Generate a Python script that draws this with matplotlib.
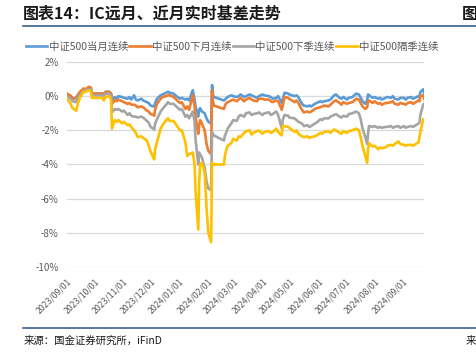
import matplotlib
matplotlib.use('Agg')
import matplotlib.pyplot as plt
import matplotlib.dates as mdates
from matplotlib.lines import Line2D
import pandas as pd

plt.rcParams['font.family'] = ['Noto Sans CJK SC', 'DejaVu Sans']

# DATA (basis in %) -----------------------------------------------------
dates = [
    '2023-09-01', '2023-09-05', '2023-09-07', '2023-09-11', '2023-09-13', '2023-09-15',
    '2023-09-19', '2023-09-21', '2023-09-25', '2023-09-27', '2023-09-28',
    '2023-10-09', '2023-10-11', '2023-10-13', '2023-10-17', '2023-10-19', '2023-10-20',
    '2023-10-23', '2023-10-25', '2023-10-27', '2023-10-31',
    '2023-11-02', '2023-11-06', '2023-11-08', '2023-11-10', '2023-11-13', '2023-11-15',
    '2023-11-17', '2023-11-21', '2023-11-23', '2023-11-27', '2023-11-29',
    '2023-12-01', '2023-12-04', '2023-12-05', '2023-12-06', '2023-12-08', '2023-12-12',
    '2023-12-14', '2023-12-18', '2023-12-20', '2023-12-22', '2023-12-26', '2023-12-28',
    '2024-01-02', '2024-01-04', '2024-01-08', '2024-01-10', '2024-01-12', '2024-01-16',
    '2024-01-18', '2024-01-19', '2024-01-22', '2024-01-23', '2024-01-24', '2024-01-26',
    '2024-01-29', '2024-01-31',
    '2024-02-02', '2024-02-05', '2024-02-06', '2024-02-07', '2024-02-08', '2024-02-19',
    '2024-02-20', '2024-02-21', '2024-02-23', '2024-02-27', '2024-02-29',
    '2024-03-04', '2024-03-06', '2024-03-08', '2024-03-12', '2024-03-14', '2024-03-18',
    '2024-03-20', '2024-03-22', '2024-03-26', '2024-03-28',
    '2024-04-01', '2024-04-03', '2024-04-08', '2024-04-10', '2024-04-12', '2024-04-16',
    '2024-04-18', '2024-04-22', '2024-04-23', '2024-04-25', '2024-04-29', '2024-04-30',
    '2024-05-06', '2024-05-08', '2024-05-10', '2024-05-14', '2024-05-16', '2024-05-20',
    '2024-05-22', '2024-05-24', '2024-05-28', '2024-05-30',
    '2024-06-03', '2024-06-05', '2024-06-07', '2024-06-12', '2024-06-14', '2024-06-18',
    '2024-06-20', '2024-06-24', '2024-06-26', '2024-06-28',
    '2024-07-02', '2024-07-04', '2024-07-08', '2024-07-10', '2024-07-12', '2024-07-15',
    '2024-07-17', '2024-07-19', '2024-07-22', '2024-07-24', '2024-07-25', '2024-07-26',
    '2024-07-30',
    '2024-08-01', '2024-08-05', '2024-08-07', '2024-08-09', '2024-08-13', '2024-08-15',
    '2024-08-19', '2024-08-21', '2024-08-23', '2024-08-27', '2024-08-29',
    '2024-09-02', '2024-09-04', '2024-09-06', '2024-09-10', '2024-09-12', '2024-09-18',
    '2024-09-19', '2024-09-20', '2024-09-23', '2024-09-24',
]

cur_month = [
    0.10, 0.00, -0.15, -0.10, 0.05, 0.20, 0.40, 0.35, 0.50, 0.45, 0.15,
    0.15, 0.10, 0.25, 0.25, 0.15, -0.30, -0.05, -0.15, 0.00, -0.05,
    -0.10, -0.15, -0.05, -0.20, 0.05, -0.20, -0.25, -0.15, -0.25, -0.35, -0.40,
    -0.55, -0.60, -0.60, -0.40, -0.15, 0.05, 0.10, 0.20, 0.25, 0.20, 0.15, 0.05,
    -0.15, -0.10, -0.20, -0.15, -0.25, 0.35, -0.20, -0.60, -1.20, -0.80, -0.70, -0.90,
    -1.00, -1.30,
    -1.50, -1.60, 0.65, 0.10, -0.05, -0.25, -0.20, -0.15, -0.05, 0.05, 0.00,
    -0.05, 0.00, 0.10, -0.05, 0.00, 0.10, 0.05, 0.00, -0.10, 0.00,
    0.10, 0.05, 0.00, -0.05, -0.15, -0.10, 0.00, -0.40, -0.20, 0.20, 0.15, 0.10,
    0.00, 0.05, -0.05, -0.45, -0.55, -0.60, -0.55, -0.60, -0.45, -0.40,
    -0.30, -0.35, -0.30, -0.25, -0.20, 0.05, 0.10, -0.10, -0.15, -0.05,
    -0.20, -0.10, -0.05, 0.05, 0.15, 0.10, -0.10, -0.30, -0.45, -0.25, 0.10, 0.05,
    -0.10,
    -0.05, -0.15, -0.10, -0.20, -0.10, -0.05, -0.10, 0.00, -0.15, -0.20, -0.10,
    -0.10, -0.20, -0.10, -0.05, -0.15, 0.00, -0.05, 0.25, 0.40, 0.20,
]

next_month = [
    0.15, 0.02, -0.15, -0.10, 0.10, 0.25, 0.45, 0.40, 0.55, 0.50, 0.15,
    0.15, 0.10, 0.25, 0.25, 0.15, -0.45, -0.25, -0.30, -0.20, -0.30,
    -0.35, -0.45, -0.40, -0.50, -0.50, -0.55, -0.65, -0.60, -0.65, -0.85, -0.90,
    -1.05, -1.10, -1.15, -0.80, -0.45, -0.15, -0.05, 0.00, 0.05, 0.05, -0.05, -0.15,
    -0.40, -0.35, -0.75, -0.60, -0.80, 0.05, -0.60, -1.20, -2.20, -1.70, -1.40, -1.60,
    -2.00, -2.80,
    -3.20, -3.40, 0.35, -0.30, -0.55, -0.75, -0.55, -0.45, -0.35, -0.25, -0.20,
    -0.30, -0.20, -0.10, -0.30, -0.20, -0.10, -0.20, -0.25, -0.30, -0.15,
    -0.15, -0.20, -0.20, -0.30, -0.35, -0.25, -0.30, -0.80, -0.55, -0.05, -0.10, -0.15,
    -0.35, -0.25, -0.40, -0.80, -0.95, -0.90, -0.95, -0.90, -0.75, -0.70,
    -0.65, -0.60, -0.55, -0.60, -0.50, -0.30, -0.25, -0.40, -0.50, -0.35,
    -0.45, -0.40, -0.35, -0.25, -0.15, -0.20, -0.40, -0.60, -0.75, -0.65, -0.30, -0.25,
    -0.40,
    -0.30, -0.45, -0.40, -0.50, -0.40, -0.40, -0.35, -0.30, -0.45, -0.50, -0.40,
    -0.45, -0.50, -0.40, -0.35, -0.45, -0.25, -0.30, 0.00, 0.05, -0.15,
]

next_quarter = [
    0.00, -0.15, -0.30, -0.35, -0.05, 0.10, 0.30, 0.35, 0.40, 0.40, 0.05,
    0.05, 0.00, 0.15, 0.15, 0.00, -0.95, -0.75, -0.80, -0.75, -0.90,
    -0.85, -1.10, -1.00, -1.15, -1.20, -1.20, -1.25, -1.20, -1.25, -1.45, -1.55,
    -1.80, -1.90, -1.95, -1.60, -1.35, -0.90, -0.75, -0.50, -0.35, -0.45, -0.45, -0.55,
    -0.80, -0.75, -1.20, -1.10, -1.30, -0.90, -1.50, -2.50, -4.00, -3.30, -3.40, -3.60,
    -4.20, -5.00,
    -5.40, -5.50, -2.10, -2.20, -2.30, -2.60, -2.30, -2.20, -1.90, -1.60, -1.40,
    -1.45, -1.20, -1.10, -1.20, -1.00, -0.95, -1.10, -1.05, -1.00, -0.95,
    -1.10, -1.00, -0.95, -1.10, -1.05, -0.90, -1.10, -1.90, -1.40, -1.10, -1.15, -1.25,
    -1.30, -1.40, -1.50, -1.60, -1.75, -1.70, -1.80, -1.75, -1.60, -1.55,
    -1.35, -1.40, -1.30, -1.30, -1.20, -1.10, -1.05, -1.20, -1.25, -1.15,
    -1.20, -1.05, -1.00, -0.95, -0.90, -1.00, -1.35, -1.90, -2.40, -2.80, -2.20, -1.75,
    -1.80,
    -1.75, -1.85, -1.80, -1.85, -1.80, -1.80, -1.75, -1.85, -1.80, -1.75, -1.85,
    -1.75, -1.85, -1.80, -1.75, -1.80, -1.60, -1.55, -1.10, -0.50, -0.45,
]

far_quarter = [
    -0.15, -0.45, -0.70, -0.85, -0.40, -0.10, 0.25, 0.25, 0.35, 0.30, -0.10,
    -0.10, -0.25, -0.05, 0.00, -0.20, -1.90, -1.40, -1.50, -1.40, -1.60,
    -1.50, -1.70, -1.65, -1.80, -2.00, -2.15, -2.40, -2.35, -2.45, -2.60, -2.90,
    -3.25, -3.60, -3.70, -3.10, -2.70, -1.90, -1.70, -1.40, -1.30, -1.45, -1.45, -1.60,
    -2.00, -2.00, -2.70, -3.50, -3.40, -3.30, -4.00, -5.50, -7.80, -5.00, -4.00, -3.90,
    -4.50, -6.50,
    -8.00, -8.55, -3.90, -3.95, -4.00, -4.00, -3.50, -3.25, -2.90, -2.75, -2.50,
    -2.60, -2.35, -2.40, -2.15, -2.05, -2.00, -2.25, -2.15, -2.05, -2.00,
    -2.20, -2.10, -2.05, -2.15, -2.10, -1.90, -2.10, -2.30, -1.75, -1.75, -1.80, -1.85,
    -2.10, -2.00, -2.20, -2.35, -2.40, -2.35, -2.45, -2.40, -2.35, -2.30,
    -2.15, -2.20, -2.10, -2.05, -2.15, -1.95, -2.00, -2.15, -2.20, -2.05,
    -2.15, -2.05, -2.00, -1.95, -1.90, -2.00, -2.40, -2.95, -3.50, -3.90, -3.10, -2.75,
    -2.95,
    -2.90, -3.10, -3.00, -3.05, -3.00, -2.90, -2.85, -2.90, -2.80, -2.65, -2.80,
    -2.85, -2.90, -2.85, -2.85, -2.90, -2.70, -2.40, -2.10, -1.35, -1.40,
]

series_names = ['中证500当月连续', '中证500下月连续', '中证500下季连续', '中证500隔季连续']
series_colors = ['#5B9BD5', '#ED7D31', '#A5A5A5', '#FFC000']
y_ticks = [2, 0, -2, -4, -6, -8, -10]
x_ticks = ['2023-09-01', '2023-10-01', '2023-11-01', '2023-12-01', '2024-01-01',
           '2024-02-01', '2024-03-01', '2024-04-01', '2024-05-01', '2024-06-01',
           '2024-07-01', '2024-08-01', '2024-09-01']

# PLOT ------------------------------------------------------------------
x = pd.to_datetime(dates)

fig = plt.figure(figsize=(4.77, 3.53), dpi=100)
ax = fig.add_axes([0.1405, 0.2436, 0.7485, 0.5808])

for vals, name, color in zip([cur_month, next_month, next_quarter, far_quarter],
                             series_names, series_colors):
    ax.plot(x, vals, color=color, lw=1.9, label=name, solid_joinstyle='round')

ax.set_ylim(-10, 2)
ax.set_yticks(y_ticks)
ax.set_yticklabels([f'{v}%' for v in y_ticks])
ax.set_xlim(x[0], x[-1])
ax.set_xticks(pd.to_datetime(x_ticks))
ax.xaxis.set_major_formatter(mdates.DateFormatter('%Y/%m/%d'))
plt.setp(ax.get_xticklabels(), rotation=45, ha='right', rotation_mode='anchor')
ax.tick_params(axis='x', length=0, labelsize=6.3, colors='#595959', pad=7)
ax.tick_params(axis='y', length=0, labelsize=7, colors='#595959', pad=6)
ax.grid(axis='y', color='#D9D9D9', lw=0.9)
ax.set_axisbelow(True)
for s in ax.spines.values():
    s.set_visible(False)

handles = [Line2D([], [], color=c, lw=1.9) for c in series_colors]
leg = fig.legend(handles, series_names, loc='center', bbox_to_anchor=(232 / 477, 1 - 47 / 353),
                 ncol=4, frameon=False, fontsize=7.5, handlelength=2.1,
                 handletextpad=0.1, columnspacing=0.1)
for t in leg.get_texts():
    t.set_color('#595959')

# page decoration: title, rules, source
fig.text(23 / 477, 1 - 14 / 353, '图表14：IC远月、近月实时基差走势', fontsize=11.5,
         fontweight='semibold', va='center', ha='left', color='#1a1a1a')
fig.text(462 / 477, 1 - 14 / 353, '图', fontsize=11.5, fontweight='semibold',
         va='center', ha='left', color='#1a1a1a')
fig.add_artist(Line2D([23 / 477, 1], [1 - 25.5 / 353] * 2, color='#3A5F8F', lw=1.2))
fig.add_artist(Line2D([23 / 477, 1], [1 - 328 / 353] * 2, color='#3A5F8F', lw=1.2))
fig.text(24 / 477, 1 - 341 / 353, '来源：国金证券研究所，iFinD', fontsize=7.5,
         va='center', ha='left', color='#1a1a1a')
fig.text(466 / 477, 1 - 341 / 353, '来', fontsize=7.5, va='center', ha='left', color='#1a1a1a')

fig.savefig('out.png', dpi=100)
